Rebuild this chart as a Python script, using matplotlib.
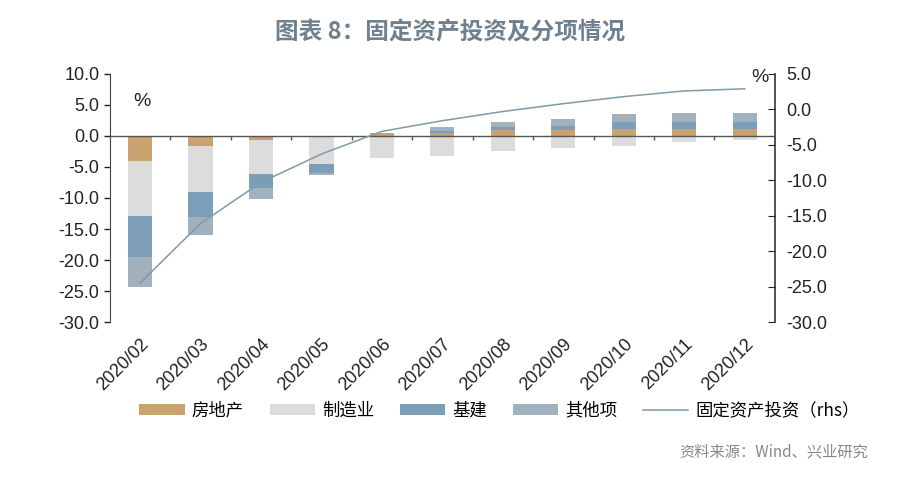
import numpy as np
import matplotlib
matplotlib.use("Agg")
import matplotlib.pyplot as plt

plt.rcParams['font.family'] = ['Noto Sans CJK SC', 'DejaVu Sans']
plt.rcParams['axes.unicode_minus'] = False

months = ["2020/02", "2020/03", "2020/04", "2020/05", "2020/06", "2020/07",
          "2020/08", "2020/09", "2020/10", "2020/11", "2020/12"]
real_estate = [-4.0, -1.6, -0.6, -0.05, 0.4, 0.5, 1.0, 1.0, 1.2, 1.2, 1.1]
manufacturing = [-8.9, -7.5, -5.6, -4.5, -3.6, -3.2, -2.4, -2.0, -1.6, -1.0, -0.65]
infrastructure = [-6.6, -3.9, -2.2, -1.4, 0.0, 0.3, 0.5, 0.6, 1.1, 1.1, 1.1]
others = [-4.8, -2.9, -1.8, -0.4, 0.1, 0.7, 0.7, 1.1, 1.3, 1.45, 1.45]
fai = [-24.5, -16.1, -10.3, -6.3, -3.1, -1.6, -0.3, 0.8, 1.8, 2.6, 2.9]

names = ["房地产", "制造业", "基建", "其他项"]
colors = ["#C9A36F", "#DCDCDC", "#7C9EB9", "#A1B1BE"]
line_color = "#7F9AA8"
tick_font = ['Liberation Sans', 'DejaVu Sans']

fig = plt.figure(figsize=(9, 4.8), dpi=100)
ax = fig.add_axes([0.122, 0.329, 0.739, 0.517])
x = np.arange(len(months))

series = [real_estate, manufacturing, infrastructure, others]
pos_base = np.zeros(len(months))
neg_base = np.zeros(len(months))
for vals, name, c in zip(series, names, colors):
    v = np.array(vals)
    base = np.where(v >= 0, pos_base, neg_base)
    ax.bar(x, v, 0.4, bottom=base, color=c, label=name, zorder=2)
    pos_base = pos_base + np.where(v >= 0, v, 0)
    neg_base = neg_base + np.where(v < 0, v, 0)

ax.set_xlim(-0.5, len(months) - 0.5)
ax.set_ylim(-30, 10)
ax.set_yticks(np.arange(-30, 10.1, 5))
ax.set_yticklabels([f"{t:.1f}" for t in np.arange(-30, 10.1, 5)], family=tick_font)
ax.axhline(0, color="#555555", lw=1.0, zorder=3)
ax.vlines(x[:-1] + 0.5, -0.6, 0, color="#555555", lw=1.0, zorder=3)

ax.set_xticks(x)
ax.set_xticklabels(months, rotation=45, ha="right", va="top", rotation_mode="anchor",
                   family=tick_font)
ax.tick_params(axis="x", length=0, pad=10, labelsize=13, colors="#222222")
ax.tick_params(axis="y", direction="out", length=4, labelsize=13, colors="#222222", width=1)
for s in ["top", "right", "bottom"]:
    ax.spines[s].set_visible(False)
ax.spines["left"].set_color("#444444")
ax.text(0.035, 0.87, "%", transform=ax.transAxes, fontsize=14, color="#222222",
        family=tick_font)

ax2 = ax.twinx()
ax2.plot(x, fai, color=line_color, lw=1.1, label="固定资产投资（rhs）", zorder=4)
ax2.set_ylim(-30, 5)
ax2.set_yticks(np.arange(-30, 5.1, 5))
ax2.set_yticklabels([f"{t:.1f}" for t in np.arange(-30, 5.1, 5)], family=tick_font)
ax2.tick_params(axis="y", direction="in", length=5, labelsize=13, colors="#222222", pad=8)
for s in ["top", "left", "bottom"]:
    ax2.spines[s].set_visible(False)
ax2.spines["right"].set_color("#333333")
ax2.spines["right"].set_linewidth(1.2)
ax2.text(0.99, 0.985, "%", transform=ax2.transAxes, fontsize=14, color="#222222",
         ha="right", va="center", family=tick_font)

h1, l1 = ax.get_legend_handles_labels()
h2, l2 = ax2.get_legend_handles_labels()
fig.legend(h1 + h2, l1 + l2, loc="center", bbox_to_anchor=(0.555, 0.145), ncol=5,
           frameon=False, fontsize=12.5, handlelength=2.6, handleheight=0.6,
           columnspacing=1.5, handletextpad=0.4)

fig.text(0.5, 0.932, "图表 8：固定资产投资及分项情况", ha="center", va="center",
         fontsize=17, fontweight="bold", color="#6F808F")
fig.text(0.965, 0.058, "资料来源：Wind、兴业研究", ha="right", va="center",
         fontsize=11, color="#888888")

fig.savefig("out.png", dpi=100, facecolor="white")
